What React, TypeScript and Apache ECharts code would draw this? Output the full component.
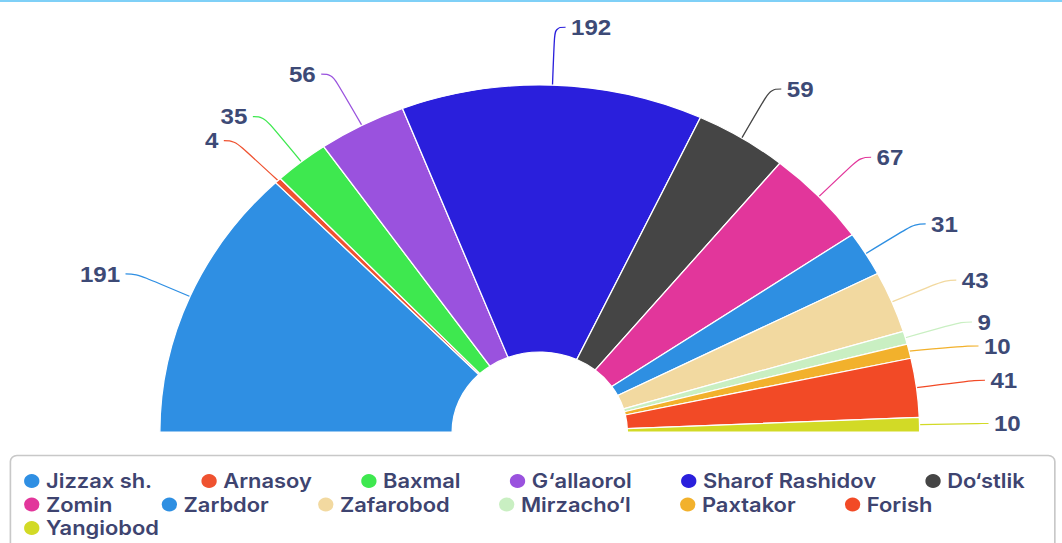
import React, { useEffect, useRef } from "react";
import * as echarts from "echarts";

const categories = [
  "Jizzax sh.", "Arnasoy", "Baxmal", "G‘allaorol", "Sharof Rashidov", "Do‘stlik",
  "Zomin", "Zarbdor", "Zafarobod", "Mirzacho‘l", "Paxtakor", "Forish", "Yangiobod",
];
const values = [191, 4, 35, 56, 192, 59, 67, 31, 43, 9, 10, 41, 10];
const colors = [
  "#2f8fe3", "#ef5230", "#3ee84f", "#9a52de", "#2a1fdc", "#454545",
  "#e2369b", "#2e8fe2", "#f2d9a0", "#c9efc2", "#f2b12c", "#f24a26", "#d2da26",
];
const legendRows = [categories.slice(0, 6), categories.slice(6, 12), categories.slice(12)];

export default function App() {
  const ref = useRef<HTMLDivElement>(null);
  useEffect(() => {
    if (!ref.current) return;
    const chart = echarts.init(ref.current, undefined, { renderer: "svg" });
    const textColor = "#3d4a76";
    const legendBase = {
      orient: "horizontal" as const,
      left: 20,
      padding: 0,
      itemGap: 43,
      itemWidth: 16,
      itemHeight: 16,
      icon: "circle",
      textStyle: { fontSize: 20, fontWeight: 600, color: "#3e4470", fontFamily: "Inter, sans-serif" },
    };
    chart.setOption({
      animation: false,
      color: colors,
      textStyle: { fontFamily: "Liberation Sans, Arial, sans-serif" },
      graphic: [
        {
          type: "rect",
          shape: { x: 9.5, y: 455.5, width: 954, height: 100, r: 6 },
          style: { fill: "none", stroke: "#c8c8c8", lineWidth: 1.5 },
          silent: true,
        },
      ],
      legend: legendRows.map((row, i) => ({
        ...legendBase,
        top: 471 + i * 23.5,
        data: row,
      })),
      series: [
        {
          type: "pie",
          center: [493, 432],
          radius: [80, 347],
          startAngle: 180,
          endAngle: 0,
          clockwise: true,
          avoidLabelOverlap: true,
          minShowLabelAngle: 0,
          itemStyle: { borderColor: "#ffffff", borderWidth: 1.2 },
          label: {
            show: true,
            position: "outside",
            formatter: "{c}",
            fontSize: 22,
            fontWeight: "bold",
            color: textColor,
            distanceToLabelLine: 5,
          },
          labelLine: {
            show: true,
            length: 58,
            length2: 10,
            smooth: 0.45,
            lineStyle: { width: 1.2 },
          },
          data: categories.map((name, i) => ({ name, value: values[i] })),
        },
      ],
    });
    return () => chart.dispose();
  }, []);
  return (
    <div style={{ position: "fixed", left: 0, top: 0, width: 1062, height: 543, overflow: "hidden", background: "#fff" }}>
      <div style={{ position: "absolute", left: 0, top: 0, width: 1062, height: 2, background: "#7fd0f7" }} />
      <div
        ref={ref}
        style={{ position: "absolute", left: 0, top: 0, width: 970, height: 543, transform: "scaleX(1.0948)", transformOrigin: "0 0" }}
      />
    </div>
  );
}
